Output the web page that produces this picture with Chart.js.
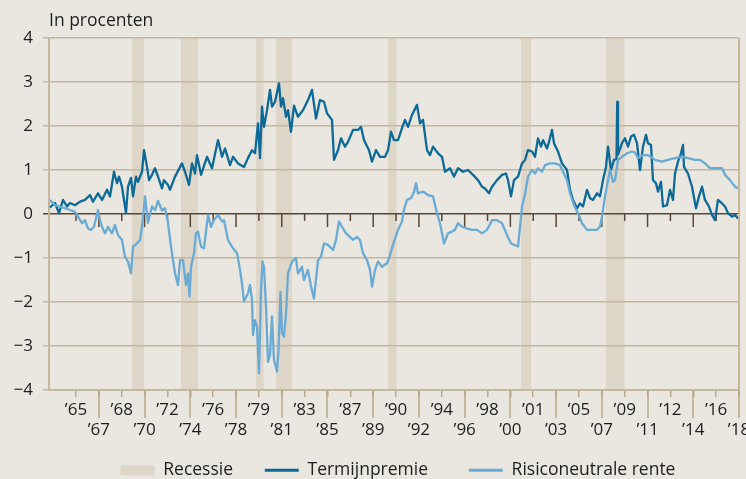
<!DOCTYPE html>
<html lang="nl">
<head>
<meta charset="UTF-8">
<title>Termijnpremie en risiconeutrale rente</title>
<script src="https://cdn.jsdelivr.net/npm/chart.js@4.4.0/dist/chart.umd.min.js"></script>
<style>
  html, body { margin: 0; padding: 0; background: #e9e7df; overflow: hidden; }
  #wrap { width: 746px; height: 489px; }
</style>
</head>
<body>
<div id="wrap"><canvas id="chart" width="746" height="489"></canvas></div>
<script>
// x-axis tick labels (equally spaced ticks, two rows)
const tickLabels = ['’65','’67','’68','’70','’72','’74','’76','’78','’79','’81','’83','’85','’87','’89','’90',
                    '’92','’94','’96','’98','’00','’01','’03','’05','’07','’09','’11','’12','’14','’16','’18'];

// recession periods (decimal years)
const recessionStarts = [1969.94, 1973.86, 1979.86, 1981.44, 1990.40, 2001.06, 2007.84];
const recessionEnds   = [1970.90, 1975.22, 1980.48, 1982.74, 1991.12, 2001.88, 2009.36];

// Termijnpremie (dark blue)
const termYears = [
  1963.38,1963.78,1964.10,1964.42,1964.74,1964.98,1965.38,1965.78,1966.18,1966.58,1966.82,1967.22,1967.54,1967.94,
  1968.18,1968.50,1968.74,1968.90,1969.14,1969.46,1969.62,1969.86,1970.02,1970.26,1970.42,1970.74,1970.90,1971.14,
  1971.30,1971.54,1971.78,1972.02,1972.34,1972.50,1972.82,1972.98,1973.38,1973.94,1974.18,1974.50,1974.74,1974.98,
  1975.14,1975.46,1975.94,1976.34,1976.82,1977.14,1977.38,1977.78,1978.02,1978.42,1978.90,1979.22,1979.54,1979.78,
  1980.02,1980.18,1980.34,1980.50,1980.74,1980.98,1981.14,1981.38,1981.70,1981.86,1982.02,1982.26,1982.42,1982.66,
  1982.90,1983.22,1983.62,1984.02,1984.34,1984.66,1984.98,1985.30,1985.54,1985.94,1986.10,1986.42,1986.66,1986.98,
  1987.22,1987.62,1988.02,1988.26,1988.50,1988.90,1989.14,1989.46,1989.78,1990.18,1990.42,1990.66,1990.90,1991.22,
  1991.54,1991.78,1992.02,1992.34,1992.74,1992.98,1993.22,1993.54,1993.78,1994.02,1994.42,1994.74,1994.98,1995.38,
  1995.70,1996.02,1996.42,1996.82,1997.22,1997.62,1997.94,1998.18,1998.50,1998.74,1999.14,1999.54,1999.86,2000.02,
  2000.26,2000.50,2000.82,2001.14,2001.38,2001.62,2001.94,2002.18,2002.42,2002.66,2002.82,2003.14,2003.30,2003.54,
  2003.70,2004.02,2004.34,2004.74,2004.98,2005.22,2005.54,2005.78,2006.02,2006.34,2006.58,2006.82,2007.14,2007.38,
  2007.62,2007.86,2008.02,2008.26,2008.50,2008.70,2008.76,2008.82,2009.14,2009.38,2009.62,2009.86,2010.10,2010.34,
  2010.58,2010.82,2011.06,2011.22,2011.46,2011.62,2011.86,2012.02,2012.26,2012.42,2012.74,2012.98,2013.22,2013.38,
  2013.62,2013.86,2014.02,2014.10,2014.42,2014.74,2015.06,2015.30,2015.54,2015.78,2016.10,2016.34,2016.58,2016.82,
  2017.14,2017.38,2017.62,2017.94,2018.18,2018.42
];
const termValues = [
  0.15,0.25,0.02,0.32,0.17,0.25,0.20,0.28,0.32,0.43,0.28,0.47,0.32,0.55,
  0.40,0.96,0.70,0.85,0.62,0.02,0.62,0.82,0.40,0.85,0.73,0.96,1.45,1.07,
  0.77,0.89,1.04,0.85,0.58,0.77,0.66,0.55,0.85,1.15,0.96,0.66,1.15,0.92,
  1.34,0.89,1.30,1.04,1.68,1.30,1.49,1.11,1.30,1.15,1.07,1.27,1.45,1.38,
  2.06,1.27,2.44,1.98,2.36,2.82,2.44,2.55,2.97,2.44,2.63,2.21,2.36,1.87,
  2.46,2.21,2.36,2.59,2.82,2.17,2.59,2.55,2.29,2.14,1.23,1.45,1.72,1.53,
  1.64,1.91,1.91,1.98,1.68,1.45,1.19,1.45,1.30,1.30,1.45,1.87,1.68,1.68,
  1.95,2.14,1.98,2.25,2.48,2.06,2.14,1.45,1.34,1.53,1.38,1.30,0.96,1.04,
  0.85,1.04,0.96,1.00,0.89,0.77,0.62,0.58,0.47,0.62,0.77,0.89,0.92,0.77,
  0.40,0.77,0.85,1.15,1.23,1.45,1.42,1.30,1.72,1.53,1.68,1.49,1.64,1.91,
  1.61,1.42,1.15,1.00,0.55,0.32,0.13,0.24,0.17,0.55,0.36,0.32,0.47,0.40,
  0.77,1.07,1.53,1.00,1.23,1.25,2.55,1.35,1.61,1.72,1.53,1.76,1.80,1.61,
  1.00,1.53,1.80,1.61,1.57,0.77,0.70,0.51,0.73,0.17,0.20,0.55,0.32,0.92,
  1.19,1.38,1.57,1.07,0.92,0.62,0.13,0.40,0.62,0.32,0.17,-0.02,-0.14,0.32,
  0.24,0.17,0.02,-0.06,-0.02,-0.10
];

// Risiconeutrale rente (light blue)
const riskYears = [
  1963.38,1963.78,1964.18,1964.58,1964.98,1965.38,1965.62,1965.94,1966.18,1966.42,1966.66,1966.90,1967.22,1967.38,
  1967.54,1967.78,1968.02,1968.34,1968.58,1968.82,1969.14,1969.38,1969.62,1969.86,1970.02,1970.34,1970.58,1970.74,
  1970.98,1971.22,1971.54,1971.78,1972.02,1972.34,1972.58,1972.82,1973.06,1973.38,1973.62,1973.78,1974.02,1974.26,
  1974.42,1974.54,1974.66,1974.90,1975.06,1975.22,1975.46,1975.70,1975.94,1976.02,1976.26,1976.50,1976.82,1977.14,
  1977.30,1977.62,1978.02,1978.34,1978.58,1978.74,1978.90,1979.22,1979.38,1979.54,1979.62,1979.78,1979.94,1980.10,
  1980.26,1980.38,1980.50,1980.66,1980.82,1980.98,1981.14,1981.30,1981.54,1981.66,1981.82,1981.94,1982.10,1982.26,
  1982.42,1982.74,1983.06,1983.22,1983.54,1983.70,1984.02,1984.26,1984.50,1984.82,1985.06,1985.30,1985.62,1986.02,
  1986.26,1986.50,1986.74,1987.06,1987.38,1987.62,1987.94,1988.18,1988.42,1988.74,1988.98,1989.14,1989.38,1989.62,
  1989.94,1990.34,1990.58,1990.82,1991.22,1991.54,1991.70,1991.94,1992.26,1992.50,1992.66,1992.82,1993.22,1993.62,
  1994.02,1994.34,1994.58,1994.90,1995.22,1995.54,1995.78,1996.02,1996.34,1996.74,1997.14,1997.54,1997.94,1998.34,
  1998.74,1999.14,1999.54,1999.94,2000.26,2000.82,2000.98,2001.14,2001.38,2001.62,2001.94,2002.18,2002.42,2002.74,
  2002.98,2003.38,2003.78,2004.18,2004.42,2004.74,2004.98,2005.30,2005.62,2005.94,2006.34,2006.74,2007.14,2007.38,
  2007.54,2007.78,2008.02,2008.18,2008.42,2008.58,2008.82,2009.14,2009.54,2009.94,2010.18,2010.42,2010.82,2011.22,
  2011.78,2012.34,2012.82,2013.38,2013.94,2014.42,2014.98,2015.38,2015.78,2016.18,2016.58,2017.14,2017.38,2017.78,
  2018.18,2018.42
];
const riskValues = [
  0.32,0.20,0.17,0.13,0.09,0.05,-0.06,-0.21,-0.14,-0.33,-0.36,-0.29,0.09,-0.14,
  -0.29,-0.44,-0.29,-0.44,-0.25,-0.48,-0.59,-0.97,-1.08,-1.35,-0.74,-0.67,-0.59,-0.29,
  0.40,-0.20,0.17,0.09,0.30,0.08,0.13,-0.20,-0.74,-1.35,-1.61,-1.05,-1.05,-1.61,
  -1.35,-1.88,-1.20,-0.89,-0.44,-0.40,-0.74,-0.78,-0.21,-0.02,-0.29,-0.14,-0.02,-0.17,
  -0.14,-0.59,-0.78,-0.89,-1.27,-1.58,-1.99,-1.80,-1.61,-1.95,-2.75,-2.41,-2.56,-3.62,
  -1.73,-1.08,-1.20,-2.11,-3.36,-3.20,-2.33,-3.32,-3.58,-3.09,-1.77,-2.71,-2.79,-2.26,
  -1.35,-1.08,-1.00,-1.35,-1.20,-1.50,-1.27,-1.65,-1.92,-1.05,-0.97,-0.67,-0.70,-0.82,
  -0.59,-0.17,-0.29,-0.44,-0.52,-0.59,-0.52,-0.59,-0.89,-1.05,-1.27,-1.65,-1.27,-1.08,
  -1.20,-1.12,-0.93,-0.70,-0.36,-0.17,0.10,0.32,0.36,0.50,0.70,0.47,0.51,0.43,
  0.40,0.02,-0.21,-0.67,-0.44,-0.40,-0.36,-0.21,-0.29,-0.33,-0.36,-0.36,-0.44,-0.36,
  -0.14,-0.14,-0.21,-0.48,-0.67,-0.74,-0.29,0.17,0.45,0.85,1.00,0.92,1.04,0.96,
  1.11,1.15,1.15,1.11,0.96,0.77,0.47,0.20,0.02,-0.21,-0.36,-0.36,-0.36,-0.29,
  -0.06,0.40,0.77,1.00,0.73,0.77,1.23,1.30,1.38,1.42,1.40,1.27,1.34,1.34,
  1.23,1.19,1.23,1.27,1.30,1.27,1.23,1.23,1.15,1.04,1.04,1.04,0.89,0.77,
  0.62,0.58
];

const X_MIN = 1963.3, X_MAX = 2018.5;
const TICK_START = 1965.46;
const TICK_STEP = (X_MAX - TICK_START) / (tickLabels.length - 1);

const BG_RECESS = '#ddd6c9';
const GRID = '#c6b89d';
const TICK = '#baa98a';
const ZERO = '#5a4636';
const DARK = '#0d6997';
const LIGHT = '#69abd5';
const TEXT = '#1e1e1e';
const FONT = "'Open Sans', 'DejaVu Sans', sans-serif";
const NB = '\u00a0';

const toPoints = (xs, ys) => xs.map((x, i) => ({ x: x, y: ys[i] }));

const recessionSets = recessionStarts.map((s, i) => ({
  label: 'Recessie',
  data: [{ x: s, y: 4 }, { x: recessionEnds[i], y: 4 }],
  borderWidth: 0,
  pointRadius: 0,
  backgroundColor: BG_RECESS,
  fill: { value: -4 },
  order: 5
}));

// ticks hanging under the zero line
const zeroTicks = {
  id: 'zeroTicks',
  beforeDatasetsDraw(chart) {
    const ctx = chart.ctx;
    const xs = chart.scales.x, ys = chart.scales.y;
    const y0 = ys.getPixelForValue(0);
    ctx.save();
    ctx.lineWidth = 1.5;
    ctx.strokeStyle = ZERO;
    xs.ticks.forEach((t, i) => {
      const px = xs.getPixelForValue(t.value);
      ctx.beginPath();
      ctx.moveTo(px, y0);
      ctx.lineTo(px, y0 + (i % 2 === 1 ? 13 : 7));
      ctx.stroke();
    });
    ctx.restore();
  }
};

// long ticks for the second label row and the right frame line
const frameTicks = {
  id: 'frameTicks',
  afterDraw(chart) {
    const ctx = chart.ctx;
    const xs = chart.scales.x, ys = chart.scales.y;
    const top = ys.top, bottom = xs.top, right = xs.right;
    ctx.save();
    ctx.strokeStyle = TICK;
    ctx.lineWidth = 1.5;
    xs.ticks.forEach((t, i) => {
      if (i % 2 === 0) return;
      const px = Math.round(xs.getPixelForValue(t.value));
      ctx.beginPath();
      ctx.moveTo(px, bottom);
      ctx.lineTo(px, bottom + 28);
      ctx.stroke();
    });
    ctx.strokeStyle = GRID;
    ctx.lineWidth = 2;
    ctx.beginPath();
    ctx.moveTo(Math.round(right), top);
    ctx.lineTo(Math.round(right), bottom);
    ctx.stroke();
    ctx.restore();
  }
};

new Chart(document.getElementById('chart'), {
  type: 'line',
  data: {
    datasets: [
      {
        label: 'Risiconeutrale rente',
        data: toPoints(riskYears, riskValues),
        borderColor: LIGHT,
        borderWidth: 2.3,
        pointRadius: 0,
        tension: 0,
        borderJoinStyle: 'round',
        fill: false,
        order: 0
      },
      {
        label: 'Termijnpremie',
        data: toPoints(termYears, termValues),
        borderColor: DARK,
        borderWidth: 2.3,
        pointRadius: 0,
        tension: 0,
        borderJoinStyle: 'round',
        fill: false,
        order: 1
      },
      ...recessionSets
    ]
  },
  options: {
    responsive: false,
    animation: false,
    layout: { padding: { left: 0, right: 7, top: 0, bottom: 0 } },
    scales: {
      x: {
        type: 'linear',
        min: X_MIN,
        max: X_MAX,
        afterBuildTicks: s => {
          s.ticks = tickLabels.map((_, i) => ({ value: TICK_START + i * TICK_STEP }));
        },
        afterFit: s => { s.height = 62.5; s.paddingLeft = 0; s.paddingRight = 0; },
        grid: { drawOnChartArea: false, tickLength: 7, color: TICK, lineWidth: 1.5 },
        border: { color: GRID, width: 2 },
        ticks: {
          autoSkip: false,
          maxRotation: 0,
          minRotation: 0,
          padding: 3,
          color: TEXT,
          font: { family: FONT, size: 17 },
          callback: (v, i) => (i % 2 === 1 ? ['', tickLabels[i]] : tickLabels[i])
        }
      },
      y: {
        min: -4,
        max: 4,
        afterFit: s => { s.width = 49; s.paddingTop = 0; s.paddingBottom = 0; },
        grid: {
          color: c => (c.tick && c.tick.value === 0 ? ZERO : GRID),
          lineWidth: 1.5,
          tickLength: 6
        },
        border: { color: GRID, width: 2 },
        ticks: {
          stepSize: 1,
          padding: 10,
          color: TEXT,
          font: { family: FONT, size: 17 },
          callback: v => (v < 0 ? '\u2212' + Math.abs(v) : String(v))
        }
      }
    },
    plugins: {
      filler: { drawTime: 'beforeDraw' },
      tooltip: { enabled: false },
      title: {
        display: true,
        text: 'In procenten',
        align: 'start',
        fullSize: false,
        color: TEXT,
        font: { family: FONT, size: 17.5, weight: 'normal' },
        padding: { top: 11, bottom: 6 }
      },
      legend: {
        position: 'bottom',
        align: 'end',
        fullSize: false,
        labels: {
          usePointStyle: true,
          pointStyleWidth: 34,
          boxHeight: 10,
          padding: 9,
          color: TEXT,
          font: { family: FONT, size: 17.5 },
          generateLabels: () => [
            { text: 'Recessie' + NB.repeat(5), fillStyle: BG_RECESS, strokeStyle: BG_RECESS, lineWidth: 0, pointStyle: 'rect', hidden: false, fontColor: TEXT },
            { text: 'Termijnpremie' + NB.repeat(7), fillStyle: DARK, strokeStyle: DARK, lineWidth: 3, pointStyle: 'line', hidden: false, fontColor: TEXT },
            { text: 'Risiconeutrale rente' + NB.repeat(12), fillStyle: LIGHT, strokeStyle: LIGHT, lineWidth: 3, pointStyle: 'line', hidden: false, fontColor: TEXT }
          ]
        }
      }
    }
  },
  plugins: [zeroTicks, frameTicks]
});
</script>
</body>
</html>
